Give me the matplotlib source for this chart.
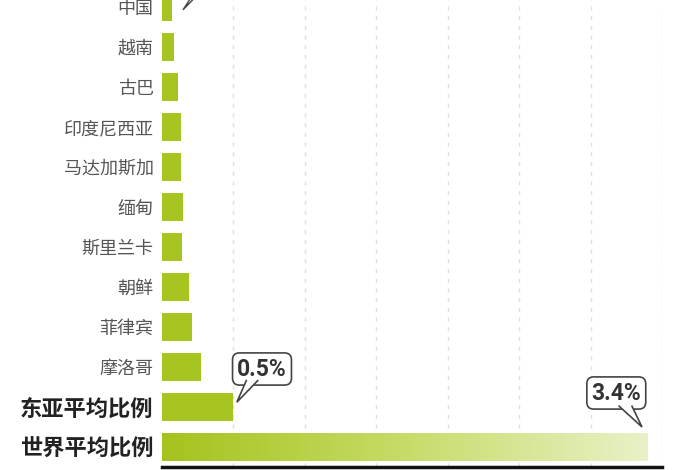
import numpy as np
import matplotlib
matplotlib.use("Agg")
import matplotlib.pyplot as plt
from matplotlib.colors import LinearSegmentedColormap
from matplotlib.patches import Polygon

plt.rcParams['font.family'] = ['Noto Sans CJK SC', 'DejaVu Sans']

# data, top to bottom
labels = ["中国", "越南", "古巴", "印度尼西亚", "马达加斯加", "缅甸", "斯里兰卡",
          "朝鲜", "菲律宾", "摩洛哥", "东亚平均比例", "世界平均比例"]
values = [0.07, 0.084, 0.11, 0.13, 0.13, 0.144, 0.14, 0.19, 0.21, 0.27, 0.5, 3.4]
callout_vals = ["0.5%", "3.4%"]

green = "#a6c520"
n = len(labels)
pos = np.arange(n)[::-1]  # world average at the bottom (0)

fig = plt.figure(figsize=(7, 4.7), dpi=100)
ax = fig.add_axes([162 / 700, 3 / 470, 500 / 700, 467 / 470])

ax.barh(pos[:-1], values[:-1], height=0.7, color=green, zorder=2)

# gradient bar for the world average
w_val = values[-1]
w_pos = pos[-1]
cmap = LinearSegmentedColormap.from_list("g", ["#a4c31c", "#c6dc68", "#e9f1c8"])
grad = np.linspace(0, 1, 256).reshape(1, -1)
ax.imshow(grad, cmap=cmap, aspect="auto", zorder=2,
          extent=[0, w_val, w_pos - 0.35, w_pos + 0.35])

ax.set_xlim(0, 3.5)
ax.set_ylim(-0.5, 11.175)
ax.set_xticks(np.arange(0.5, 3.51, 0.5))
ax.grid(axis="x", color="#e0e0e0", linestyle=(0, (3, 4)), linewidth=1, zorder=0)
ax.tick_params(axis="x", length=0, labelbottom=False)
ax.tick_params(axis="y", length=0, pad=6)
ax.set_yticks(pos)
ax.set_yticklabels(labels)
for i, t in enumerate(ax.get_yticklabels()):
    if i >= n - 2:
        t.set_fontsize(16)
        t.set_fontweight("bold")
        t.set_color("#222222")
    else:
        t.set_fontsize(13)
        t.set_color("#555555")

for s in ["top", "right", "left"]:
    ax.spines[s].set_visible(False)
ax.spines["bottom"].set_linewidth(2.5)
ax.spines["bottom"].set_color("#111111")


def callout(text, cx, cy, tip, base):
    ax.text(cx, cy, text, ha="center", va="center", fontsize=16.5, fontweight="bold",
            family=["Roboto", "DejaVu Sans"], color="#333333", zorder=6,
            bbox=dict(boxstyle="round,pad=0.2,rounding_size=0.3", fc="white",
                      ec="#444444", lw=1.2))
    tri = [base[0], tip, base[1]]
    ax.add_patch(Polygon(tri, closed=True, fc="white", ec="none", zorder=7))
    xs, ys = zip(*tri)
    ax.plot(xs, ys, color="#444444", lw=1.2, zorder=8, solid_joinstyle="miter")


# east asia average
ea_v, ea_p = values[-2], pos[-2]
callout(callout_vals[0], ea_v + 0.2, ea_p + 0.95,
        (ea_v + 0.024, ea_p + 0.12),
        [(ea_v + 0.09, ea_p + 0.66), (ea_v + 0.17, ea_p + 0.66)])

# world average
callout(callout_vals[1], w_val - 0.22, w_pos + 1.35,
        (w_val - 0.04, w_pos + 0.5),
        [(w_val - 0.2, w_pos + 1.02), (w_val - 0.11, w_pos + 1.02)])

# tail of the China callout (box is cut off above)
cn_v, cn_p = values[0], pos[0]
tail = [(cn_v + 0.2, cn_p + 0.6), (cn_v + 0.077, cn_p - 0.07), (cn_v + 0.26, cn_p + 0.6)]
ax.add_patch(Polygon(tail, closed=False, fc="none", ec="#444444", lw=1.0, zorder=8,
                     clip_on=True))

fig.savefig("out.png", dpi=100)
